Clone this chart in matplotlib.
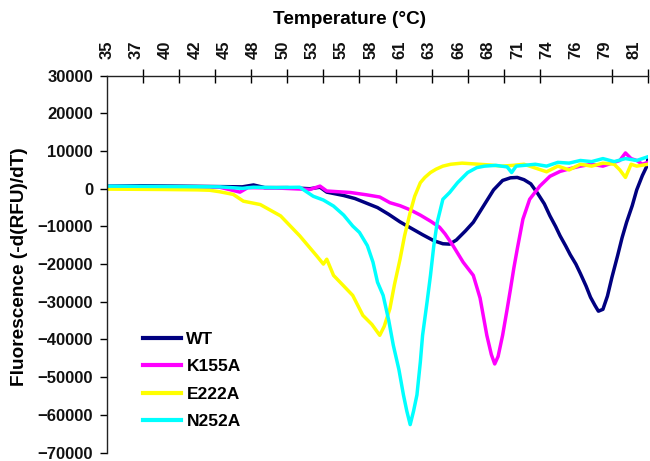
import matplotlib
matplotlib.use("Agg")
import matplotlib.pyplot as plt

plt.rcParams["font.family"] = ["Liberation Sans", "DejaVu Sans"]

# --- Data ---
wt_t = [35, 38, 41, 44, 47, 48, 49, 51, 53, 53.9, 54.5, 56, 57, 58, 59, 60, 61, 62, 63, 64,
        64.8, 65.4, 66, 66.8, 67.5, 68.4, 69.3, 70.1, 70.8, 71.4, 72.0, 72.6, 73.2, 73.8, 74.3,
        74.8, 75.2, 75.7, 76.1, 76.6, 77.0, 77.5, 77.9, 78.3, 78.6, 79.0, 79.4, 79.8, 80.3, 80.7,
        81.1, 81.6, 82.0, 82.5, 82.9, 83.0]
wt_v = [700, 800, 700, 600, 500, 1000, 300, 300, 0, 400, -900, -1800, -2600, -3800, -5000,
        -6800, -8800, -10500, -12200, -13800, -14600, -14700, -13600, -11200, -8900, -4600, -300,
        2200, 2900, 3000, 2400, 1300, -1200, -4000, -7200, -10000, -12500, -15200, -17500, -20000,
        -22500, -25800, -28800, -31000, -32500, -32000, -28500, -23500, -17800, -13000, -8900,
        -4500, -300, 3500, 6000, 8000]

k155a_t = [35, 40, 45, 46.8, 47.5, 50, 53, 53.9, 54.5, 56.6, 58, 59.2, 60.1, 61, 61.9, 62.8,
           63.7, 64.5, 65.0, 65.7, 66.6, 67.5, 68.1, 68.7, 69.1, 69.4, 69.7, 70.1, 70.5, 70.8,
           71.1, 71.4, 71.9, 72.5, 73.4, 74.3, 75.2, 76.3, 77, 78, 79, 80, 80.5, 81, 81.5, 82,
           82.5, 83]
k155a_v = [600, 500, 400, -900, 300, 200, -200, 700, -600, -1000, -1600, -2200, -3700, -4500,
           -5600, -7000, -8600, -10200, -12000, -15100, -19500, -23000, -29000, -38900, -44000,
           -46500, -44500, -38900, -32000, -26600, -21000, -16000, -8100, -2800, 700, 3300, 4600,
           5500, 6000, 6500, 6000, 7000, 7500, 9500, 8000, 7500, 6500, 7000]

e222a_t = [35, 40, 43, 44.1, 45, 46.2, 47.1, 48.6, 50.4, 52.1, 53.6, 54.2, 54.5, 55.1, 56, 56.8,
           57.7, 58.5, 59.2, 59.6, 60.1, 60.5, 61.0, 61.4, 61.9, 62.3, 62.8, 63.2, 63.7, 64.2,
           64.8, 65.5, 66.5, 68, 69, 70, 71, 72, 73, 74, 75, 76, 77, 78, 79, 80, 80.5, 81, 81.5,
           82, 83]
e222a_v = [-100, -200, -300, -400, -800, -1500, -3300, -4200, -7200, -12500, -17800, -20000,
           -18700, -23000, -25800, -28300, -33600, -36000, -38900, -36500, -31800, -25500, -18700,
           -12500, -6300, -2000, 1600, 3000, 4300, 5200, 6000, 6500, 6800, 6500, 6300, 6000, 6200,
           6500, 5500, 4500, 6000, 5000, 6500, 6000, 6800, 6500, 5000, 3000, 6500, 6000, 6500]

n252a_t = [35, 40, 45, 47, 48, 50, 52.1, 53.3, 54.2, 55.1, 56, 56.8, 57.4, 58.1, 58.6, 59, 59.5,
           60, 60.4, 60.9, 61.3, 61.6, 61.9, 62.2, 62.5, 62.8, 63, 63.4, 63.7, 64, 64.3, 64.8,
           65.4, 66.1, 67, 67.8, 68.5, 69.5, 70.5, 70.9, 71.3, 72, 73, 74, 75, 76, 77, 78, 79, 80,
           81, 82, 83]
n252a_v = [700, 600, 500, 100, 400, 300, 400, -2000, -3000, -4600, -7000, -9900, -11600, -15100,
           -19500, -24800, -28300, -35000, -41500, -48000, -54700, -59000, -62600, -59000, -54700,
           -46000, -38900, -30000, -23000, -15000, -8900, -2800, -1000, 1600, 4300, 5600, 6000,
           6200, 5800, 4300, 6000, 6200, 6500, 6000, 7000, 6800, 7500, 7200, 8000, 7200, 8000,
           7500, 8500]

series_names = ["WT", "K155A", "E222A", "N252A"]
series_colors = ["#000080", "#FF00FF", "#FFFF00", "#00FFFF"]

x_labels = ["35", "37", "40", "42", "45", "48", "50", "53", "55", "58",
            "61", "63", "66", "68", "71", "74", "76", "79", "81"]

# --- Figure ---
fig = plt.figure(figsize=(6.5, 4.61), dpi=100)
ax_top, ax_bot = 75.7, 452.5
ax = fig.add_axes([107 / 650, 1 - ax_bot / 461, (648 - 107) / 650, (ax_bot - ax_top) / 461])

data = [(wt_t, wt_v), (k155a_t, k155a_v), (e222a_t, e222a_v), (n252a_t, n252a_v)]
for (t, v), name, col in zip(data, series_names, series_colors):
    ax.plot(t, v, color=col, lw=2.5, label=name, solid_joinstyle="round")

ax.set_xlim(35, 83)
ax.set_ylim(-70000, 30000)

# y axis
ax.set_yticks(range(-70000, 30001, 10000))
ax.tick_params(axis="y", direction="out", length=5, width=1, pad=5,
               labelsize=12, labelcolor="#111111")
for lab in ax.get_yticklabels():
    lab.set_fontweight("bold")

# x axis on top: labels every 2.6 degrees, tick marks every 3.2 degrees
ax.xaxis.tick_top()
ax.xaxis.set_label_position("top")
ax.set_xticks([35 + 2.6 * i for i in range(len(x_labels))])
ax.set_xticklabels(x_labels, rotation=90, fontweight="bold", fontsize=12, color="#111111")
ax.set_xticks([35 + 3.2 * i for i in range(16)], minor=True)
ax.tick_params(axis="x", which="major", length=0, pad=12)
ax.tick_params(axis="x", which="minor", direction="inout", length=10, width=1)

for s in ["right", "bottom"]:
    ax.spines[s].set_visible(False)
for s in ["left", "top"]:
    ax.spines[s].set_color("#222222")
    ax.spines[s].set_linewidth(1)

ax.set_xlabel("Temperature (°C)", fontsize=13.7, fontweight="bold")
ax.set_ylabel("Fluorescence (-d(RFU)/dT)", fontsize=13.7, fontweight="bold")
h_ax = ax_bot - ax_top
ax.xaxis.set_label_coords((350 - 107) / 541, 1 + (ax_top - 20) / h_ax)
ax.yaxis.set_label_coords((20 - 107) / 541, 1 - (267 - ax_top) / h_ax)
ax.xaxis.label.set_va("center")
ax.yaxis.label.set_va("center")

leg = ax.legend(loc="upper left", bbox_to_anchor=(143 / 650, 1 - 332 / 461),
                bbox_transform=fig.transFigure, frameon=False, fontsize=12.5,
                handlelength=2.2, handletextpad=0.3, labelspacing=0.7,
                borderpad=0, borderaxespad=0)
for txt in leg.get_texts():
    txt.set_fontweight("bold")
for h in leg.get_lines():
    h.set_linewidth(3)

fig.savefig("out.png", dpi=100)
